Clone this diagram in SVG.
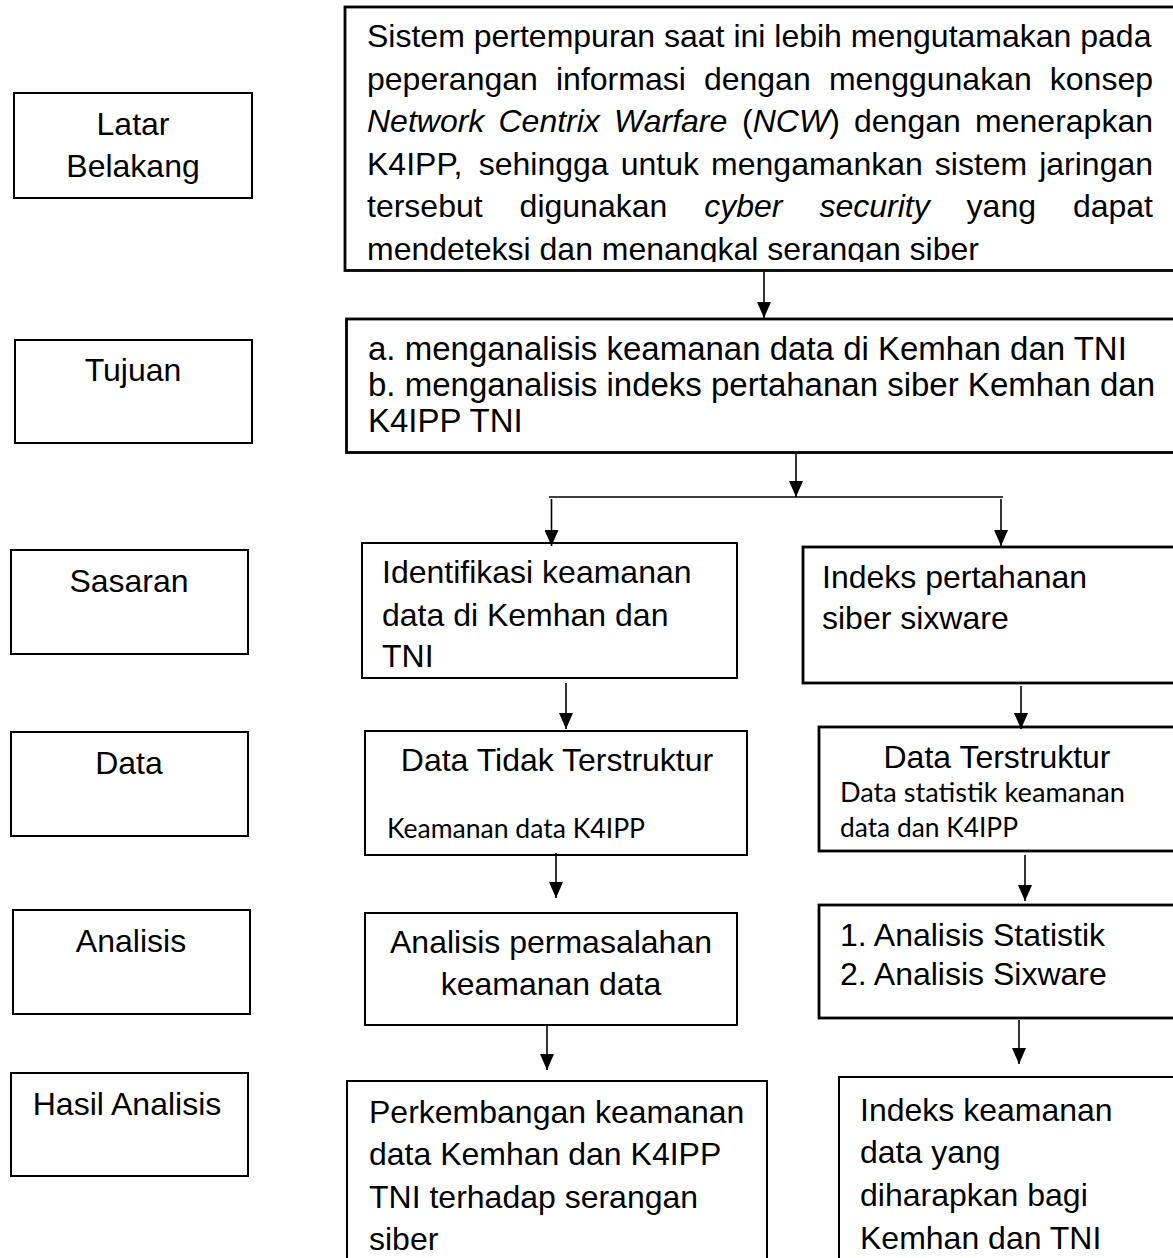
<svg xmlns="http://www.w3.org/2000/svg" width="1173" height="1258" viewBox="0 0 1173 1258">
<style>
text{font-family:"Liberation Sans",Arial,sans-serif;font-size:32px;fill:#000}
.box{fill:none;stroke:#000;stroke-width:2.8}
.lbl{fill:none;stroke:#000;stroke-width:2}
.c{text-anchor:middle}
.i{font-style:italic}
.sm{font-family:Lato,"Open Sans",sans-serif;font-size:26px}
.t33{font-size:33px}
#connectors line{stroke:#000;stroke-width:1.6;fill:none}
</style>
<defs>
<marker id="ah" markerUnits="userSpaceOnUse" markerWidth="16" markerHeight="14" refX="16" refY="7" orient="auto"><path d="M0,0 L16,7 L0,14 z" fill="#000"/></marker>
<clipPath id="clipTop"><rect x="340" y="0" width="840" height="262"/></clipPath>
</defs>
<rect width="1173" height="1258" fill="#fff"/>

<g id="lbl-latar"><rect class="lbl" x="14" y="93" width="238" height="105"/><text class="c" x="133" y="135">Latar</text><text class="c" x="133" y="177">Belakang</text></g>
<g id="lbl-tujuan"><rect class="lbl" x="15" y="340" width="237" height="103"/><text class="c" x="133" y="381">Tujuan</text></g>
<g id="lbl-sasaran"><rect class="lbl" x="11" y="550" width="237" height="104"/><text class="c" x="129" y="592">Sasaran</text></g>
<g id="lbl-data"><rect class="lbl" x="11" y="732" width="237" height="104"/><text class="c" x="129" y="774">Data</text></g>
<g id="lbl-analisis"><rect class="lbl" x="13" y="910" width="237" height="104"/><text class="c" x="131" y="952">Analisis</text></g>
<g id="lbl-hasil"><rect class="lbl" x="11" y="1073" width="237" height="103"/><text class="c" x="127" y="1115">Hasil Analisis</text></g>

<g id="latar-content">
<rect class="box" x="345" y="7" width="840" height="263.5"/>
<g clip-path="url(#clipTop)">
<text x="367" y="47">Sistem pertempuran saat ini lebih mengutamakan pada</text>
<text y="89.5"><tspan x="367">peperangan</tspan><tspan x="556">informasi</tspan><tspan x="703.9">dengan</tspan><tspan x="828.9">menggunakan</tspan><tspan x="1049.8">konsep</tspan></text>
<text y="132"><tspan class="i" x="367">Network</tspan><tspan class="i" x="498.5">Centrix</tspan><tspan class="i" x="614.1">Warfare</tspan><tspan x="742.1">(</tspan><tspan class="i">NCW</tspan><tspan>)</tspan><tspan x="854">dengan</tspan><tspan x="975.1">menerapkan</tspan></text>
<text y="174.5"><tspan x="367">K4IPP,</tspan><tspan x="478.7">sehingga</tspan><tspan x="620.7">untuk</tspan><tspan x="711.1">mengamankan</tspan><tspan x="934.8">sistem</tspan><tspan x="1039.2">jaringan</tspan></text>
<text y="217"><tspan x="367">tersebut</tspan><tspan x="519.6">digunakan</tspan><tspan class="i" x="704.2">cyber</tspan><tspan class="i" x="819.4">security</tspan><tspan x="966.6">yang</tspan><tspan x="1072.9">dapat</tspan></text>
<text x="367" y="259.5">mendeteksi dan menangkal serangan siber</text>
</g>
</g>

<g id="tujuan-content">
<rect class="box" x="346.5" y="319" width="840" height="133.5"/>
<text class="t33" x="368" y="360">a. menganalisis keamanan data di Kemhan dan TNI</text>
<text class="t33" x="368" y="396">b. menganalisis indeks pertahanan siber Kemhan dan</text>
<text class="t33" x="368" y="432">K4IPP TNI</text>
</g>

<g id="sasaran-left">
<rect class="lbl" x="362" y="543" width="375" height="135"/>
<text x="382" y="583">Identifikasi keamanan</text>
<text x="382" y="626">data di Kemhan dan</text>
<text x="382" y="667">TNI</text>
</g>
<g id="sasaran-right">
<rect class="box" x="803" y="547" width="380" height="136"/>
<text x="822" y="588">Indeks pertahanan</text>
<text x="822" y="629">siber sixware</text>
</g>

<g id="data-left">
<rect class="lbl" x="365" y="731" width="382" height="124"/>
<text class="c" x="557" y="771">Data Tidak Terstruktur</text>
<text class="sm" x="387" y="838" textLength="258" lengthAdjust="spacingAndGlyphs">Keamanan data K4IPP</text>
</g>
<g id="data-right">
<rect class="box" x="819" y="727" width="360" height="124"/>
<text class="c" x="997" y="768">Data Terstruktur</text>
<text class="sm" x="840" y="802" textLength="285" lengthAdjust="spacingAndGlyphs">Data statistik keamanan</text>
<text class="sm" x="840" y="837" textLength="178" lengthAdjust="spacingAndGlyphs">data dan K4IPP</text>
</g>

<g id="analisis-left">
<rect class="lbl" x="365" y="913" width="372" height="112"/>
<text class="c" x="551" y="953">Analisis permasalahan</text>
<text class="c" x="551" y="995">keamanan data</text>
</g>
<g id="analisis-right">
<rect class="box" x="819" y="905" width="360" height="113"/>
<text x="840" y="946">1. Analisis Statistik</text>
<text x="840" y="985">2. Analisis Sixware</text>
</g>

<g id="hasil-left">
<rect class="lbl" x="347" y="1081" width="420" height="190"/>
<text x="369" y="1123">Perkembangan keamanan</text>
<text x="369" y="1165">data Kemhan dan K4IPP</text>
<text x="369" y="1208">TNI terhadap serangan</text>
<text x="369" y="1250">siber</text>
</g>
<g id="hasil-right">
<rect class="lbl" x="839" y="1077" width="345" height="195"/>
<text x="860" y="1121">Indeks keamanan</text>
<text x="860" y="1163">data yang</text>
<text x="860" y="1206">diharapkan bagi</text>
<text x="860" y="1249">Kemhan dan TNI</text>
</g>

<g id="connectors">
<line x1="764" y1="272" x2="764" y2="318" marker-end="url(#ah)"/>
<line x1="796" y1="454" x2="796" y2="497" marker-end="url(#ah)"/>
<line x1="549" y1="497" x2="1003" y2="497"/>
<line x1="551.5" y1="499" x2="551.5" y2="546" marker-end="url(#ah)"/>
<line x1="1001" y1="499" x2="1001" y2="546" marker-end="url(#ah)"/>
<line x1="566" y1="683" x2="566" y2="729" marker-end="url(#ah)"/>
<line x1="1021" y1="686" x2="1021" y2="729" marker-end="url(#ah)"/>
<line x1="556" y1="853" x2="556" y2="898" marker-end="url(#ah)"/>
<line x1="1025" y1="855" x2="1025" y2="901" marker-end="url(#ah)"/>
<line x1="547" y1="1026" x2="547" y2="1070" marker-end="url(#ah)"/>
<line x1="1019" y1="1020" x2="1019" y2="1064" marker-end="url(#ah)"/>
</g>
</svg>
